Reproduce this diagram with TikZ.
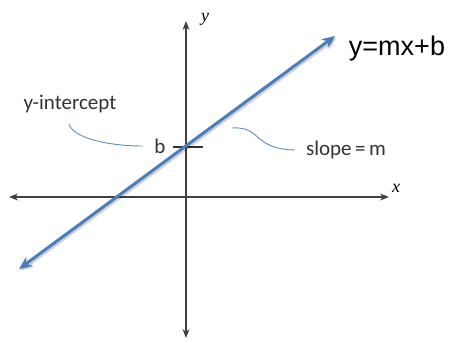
\documentclass[tikz,border=0pt]{standalone}
\usepackage{fontspec}
\setmainfont{Carlito}
\newfontfamily\arialfont{Liberation Sans}
\newfontfamily\timesfont{Liberation Serif}
\usetikzlibrary{arrows.meta}
\definecolor{lineblue}{HTML}{4A7EBB}
\definecolor{leadblue}{HTML}{5B8BC9}
\begin{document}
\begin{tikzpicture}[x=1pt,y=-1pt,
  axis/.style={draw=black!75, line width=1.1pt, -{Stealth[length=9pt,width=7pt]}},
  lead/.style={draw=leadblue, line width=0.9pt},
  lbl/.style={font=\fontsize{21}{24}\selectfont, text=black!80, inner sep=0pt},
  axlbl/.style={font=\timesfont\itshape\fontsize{18}{20}\selectfont, inner sep=0pt}]
\useasboundingbox (0,0) rectangle (451,343);
% axes
\coordinate (ytop) at (186,21);
\coordinate (ybot) at (186,338);
\coordinate (xl) at (9,197);
\coordinate (xr) at (389,197);
\draw[axis] (186,197) -- (ytop);
\draw[axis] (186,197) -- (ybot);
\draw[axis] (186,197) -- (xl);
\draw[axis] (186,197) -- (xr);
\node[axlbl] (ylab) at (205,19) {y};
\node[axlbl] (xlab) at (396,188) {x};
% intercept tick
\coordinate (tl) at (173,147);
\coordinate (tr) at (203,147);
\draw[black!80, line width=1.1pt] (tl) -- (tr);
% blue line with shadow
\coordinate (la) at (19,269);
\coordinate (lb) at (335,36);
\draw[black, opacity=0.18, line width=3.5pt, {Stealth[length=13pt,width=11pt]}-{Stealth[length=13pt,width=11pt]}] ([shift={(1.5,1.5)}]la) -- ([shift={(1.5,1.5)}]lb);
\draw[lineblue, line width=3pt, {Stealth[length=13pt,width=11pt]}-{Stealth[length=13pt,width=11pt]}] (la) -- (lb);
% labels
\node[lbl] (b) at (160,146) {b};
\node[lbl] (yint) at (70,104) {y-intercept};
\node[lbl] (slope) at (346,150) {slope\,=\,m};
\node[font=\arialfont\fontsize{27}{30}\selectfont, inner sep=0pt] (eq) at (397,49) {y=mx+b};
% leaders
\coordinate (ya) at (69,124);
\coordinate (yb) at (143,146);
\draw[lead] (ya) .. controls (73,138) and (108,146) .. (yb);
\coordinate (sa) at (232,128);
\coordinate (sb) at (295,150);
\draw[lead] (sa) .. controls (262,126) and (252,149) .. (sb);
\end{tikzpicture}
\end{document}
